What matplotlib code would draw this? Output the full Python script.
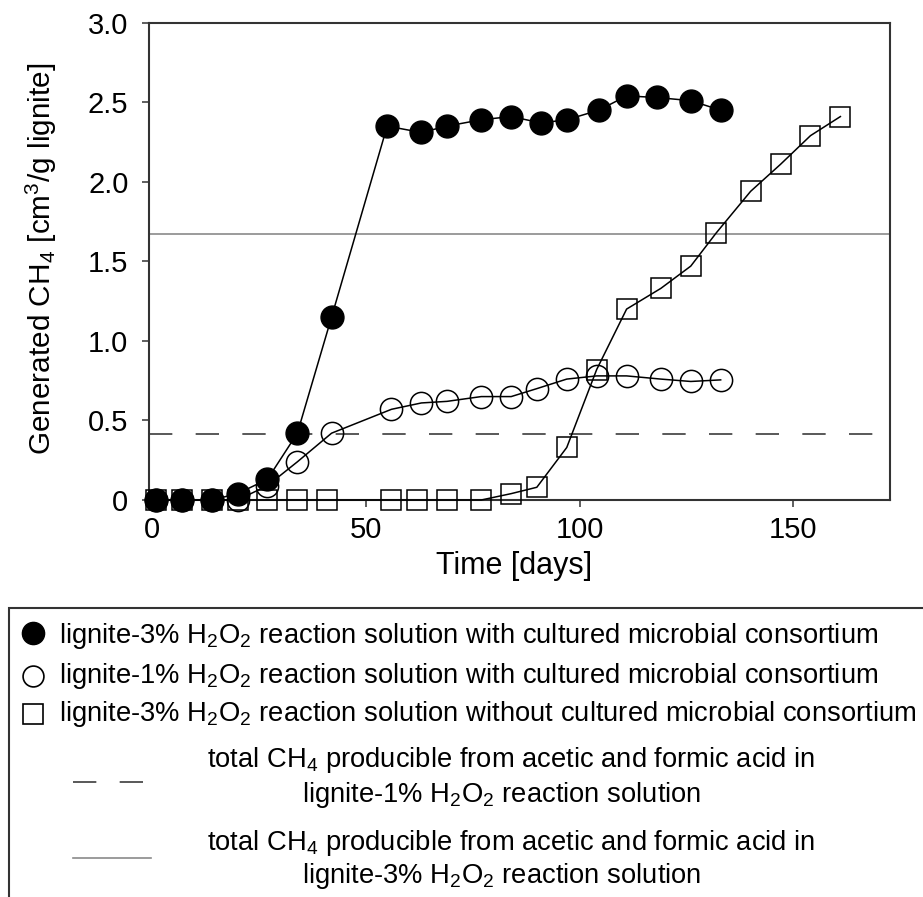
import matplotlib
matplotlib.use('Agg')
import matplotlib.pyplot as plt
from matplotlib.lines import Line2D
from matplotlib.patches import Rectangle

plt.rcParams['font.family'] = ['Liberation Sans', 'DejaVu Sans']
plt.rcParams['mathtext.default'] = 'regular'
plt.rcParams['lines.scale_dashes'] = False

# ---------------- data ----------------
days_3pct_microbes = [1, 7, 14, 20, 27, 34, 42, 55, 63, 69, 77, 84, 91, 97, 104.5, 111, 118, 126, 133]
ch4_3pct_microbes = [0, 0, 0, 0.04, 0.13, 0.42, 1.15, 2.35, 2.31, 2.35, 2.39, 2.41, 2.37, 2.39, 2.45, 2.54, 2.53, 2.51, 2.45]

days_1pct_microbes = [1, 7, 14, 20, 27, 34, 42, 56, 63, 69, 77, 84, 90, 97, 104, 111, 119, 126, 133]
ch4_1pct_microbes = [0, 0, 0, 0, 0.09, 0.24, 0.42, 0.57, 0.61, 0.62, 0.65, 0.65, 0.70, 0.76, 0.78, 0.78, 0.76, 0.745, 0.755]

days_3pct_nomicrobes = [1, 7, 14, 20, 27, 34, 41, 56, 62, 69, 77, 84, 90, 97, 104, 111, 119, 126, 132, 140, 147, 154, 161]
ch4_3pct_nomicrobes = [0, 0, 0, 0, 0, 0, 0, 0, 0, 0, 0, 0.04, 0.08, 0.33, 0.82, 1.20, 1.33, 1.47, 1.68, 1.94, 2.11, 2.29, 2.41]

ref_total_1pct = 0.415
ref_total_3pct = 1.67

x_ticks = [0, 50, 100, 150]
y_ticks = [0, 0.5, 1.0, 1.5, 2.0, 2.5, 3.0]
y_tick_labels = ['0', '0.5', '1.0', '1.5', '2.0', '2.5', '3.0']

legend_labels = [
    'lignite-3% H$_2$O$_2$ reaction solution with cultured microbial consortium',
    'lignite-1% H$_2$O$_2$ reaction solution with cultured microbial consortium',
    'lignite-3% H$_2$O$_2$ reaction solution without cultured microbial consortium',
]
legend_line_labels = [
    ('total CH$_4$ producible from acetic and formic acid in', 'lignite-1% H$_2$O$_2$ reaction solution'),
    ('total CH$_4$ producible from acetic and formic acid in', 'lignite-3% H$_2$O$_2$ reaction solution'),
]

# ---------------- figure ----------------
W, H = 923, 897
fig = plt.figure(figsize=(W / 100, H / 100), dpi=100)

def fx(x):
    return x / W

def fy(y):
    return 1 - y / H

ax = fig.add_axes([fx(149), fy(500), (890 - 149) / W, (500 - 22.7) / H])

DASH = (16.8, 16.8)
ax.axhline(ref_total_1pct, color='#3c3c3c', lw=1.2, dashes=DASH, zorder=2)
ax.axhline(ref_total_3pct, color='#8a8a8a', lw=1.2, zorder=2)

ax.plot(days_3pct_nomicrobes, ch4_3pct_nomicrobes, color='black', lw=1.1,
        marker='s', ms=14, mfc='none', mec='black', mew=1.1, clip_on=False, zorder=3)
ax.plot(days_1pct_microbes, ch4_1pct_microbes, color='black', lw=1.1,
        marker='o', ms=16, mfc='none', mec='black', mew=1.1, clip_on=False, zorder=4)
ax.plot(days_3pct_microbes, ch4_3pct_microbes, color='black', lw=1.1,
        marker='o', ms=16.5, mfc='black', mec='black', mew=1.0, clip_on=False, zorder=5)

ax.set_xlim(-0.7, 172.6)
ax.set_ylim(0, 3.0)
ax.set_xticks(x_ticks)
ax.set_yticks(y_ticks)
ax.set_yticklabels(y_tick_labels)

for sp in ax.spines.values():
    sp.set_linewidth(1.5)
    sp.set_color('#333333')

ax.tick_params(direction='out', length=5.3, width=1.1, color='#333333', labelsize=21)
ax.tick_params(axis='x', pad=6.0)
ax.tick_params(axis='y', pad=9.5)

ax.set_xlabel('Time [days]', fontsize=22)
ax.xaxis.set_label_coords(0.4928, -0.107)
ax.set_ylabel('Generated CH$_4$ [cm$^3$/g lignite]', fontsize=21.4)
ax.yaxis.set_label_coords(-0.121, 0.505)

# ---------------- legend (drawn manually) ----------------
box = Rectangle((fx(9.3), -0.05), 1.1, fy(608) + 0.05, transform=fig.transFigure,
                fill=False, lw=1.5, ec='#333333', clip_on=False)
fig.add_artist(box)

LEG_FS = 19.7
marker_styles = [
    dict(marker='o', ms=16, mfc='black', mec='black', mew=1.0),
    dict(marker='o', ms=15, mfc='none', mec='black', mew=1.2),
    dict(marker='s', ms=14, mfc='none', mec='black', mew=1.2),
]
marker_y = [633, 676, 713.7]
text_base = [643, 683, 721]
for lab, st, my, tb in zip(legend_labels, marker_styles, marker_y, text_base):
    fig.add_artist(Line2D([fx(33)], [fy(my)], transform=fig.transFigure, ls='none', **st))
    fig.text(fx(59), fy(tb), lab, fontsize=LEG_FS, ha='left', va='baseline')

fig.add_artist(Line2D([fx(73), fx(144)], [fy(782), fy(782)], transform=fig.transFigure,
                      color='#3c3c3c', lw=1.2, dashes=DASH))
fig.add_artist(Line2D([fx(73), fx(151)], [fy(858), fy(858)], transform=fig.transFigure,
                      color='#8a8a8a', lw=1.2))

line_bases = [(766.7, 801.7), (850, 883)]
for (l1, l2), (b1, b2) in zip(legend_line_labels, line_bases):
    fig.text(fx(511), fy(b1), l1, fontsize=LEG_FS, ha='center', va='baseline')
    fig.text(fx(502), fy(b2), l2, fontsize=LEG_FS, ha='center', va='baseline')

fig.savefig('out.png', dpi=100)
